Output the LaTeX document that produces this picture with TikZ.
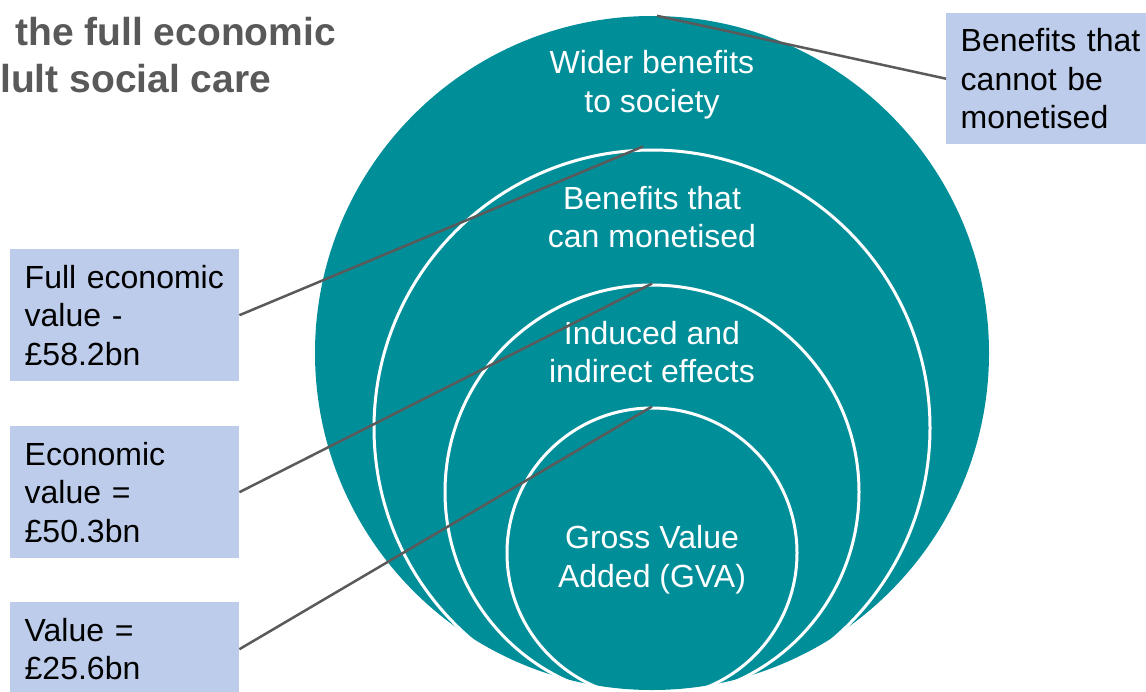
\documentclass[tikz,border=0pt]{standalone}
\usepackage{fontspec}
\setmainfont{Liberation Sans}
\definecolor{tealfill}{HTML}{008E99}
\definecolor{boxblue}{HTML}{BDCCEA}
\definecolor{linegrey}{HTML}{5A5A5A}
\definecolor{titlegrey}{HTML}{595959}
\begin{document}
\begin{tikzpicture}[x=1pt,y=-1pt,
  ring/.style={circle, draw=white, line width=3pt, inner sep=0pt},
  lbl/.style={align=center, text=white, font=\fontsize{32}{38.5}\selectfont, inner sep=0pt},
  infobox/.style={fill=boxblue, text=black, align=left, text width=200pt, inner xsep=14.5pt, inner ysep=0pt, anchor=north west, font=\fontsize{32}{38.5}\selectfont},
  conn/.style={draw=linegrey, line width=2.5pt},
  ttl/.style={anchor=base west, inner sep=0pt, text=titlegrey, font=\fontsize{39}{47}\selectfont\bfseries}]
\useasboundingbox (0,0) rectangle (1146,691);
\clip (0,0) rectangle (1146,691);
% circles
\node[circle, fill=tealfill, minimum size=674pt, inner sep=0pt] (outer) at (652,353) {};
\node[ring, minimum size=556pt] (c2) at (652,428) {};
\node[ring, minimum size=414pt] (c3) at (652,492) {};
\node[ring, minimum size=290pt] (c4) at (652,553) {};
% circle labels
\node[lbl] (t1) at (652,84.5) {Wider benefits\\to society};
\node[lbl] (t2) at (652,217) {Benefits that\\can monetised};
\node[lbl] (t3) at (652,352) {Induced and\\indirect effects};
\node[lbl] (t4) at (652,559.5) {Gross Value\\Added (GVA)};
% title
\node[ttl] (title1) at (15,45) {the full economic};
\node[ttl] (title2) at (0,92) {lult social care};
% boxes
\node[infobox, minimum height=132pt] (b1) at (10,249) {Full~economic\\value -\\£58.2bn};
\node[infobox, minimum height=132pt] (b2) at (10,426) {Economic\\value =\\£50.3bn};
\node[infobox, minimum height=94pt] (b3) at (10,602) {Value =\\£25.6bn};
\node[infobox, minimum height=131pt] (b4) at (946,13) {Benefits~that\\cannot be\\monetised};
% connectors
\draw[conn] (b4.west) -- ([xshift=5pt]outer.north);
\draw[conn] (b1.east) -- ([xshift=-9pt,yshift=2pt]c2.north);
\draw[conn] (b2.east) -- (c3.north);
\draw[conn] (b3.east) -- (c4.north);
\end{tikzpicture}
\end{document}
